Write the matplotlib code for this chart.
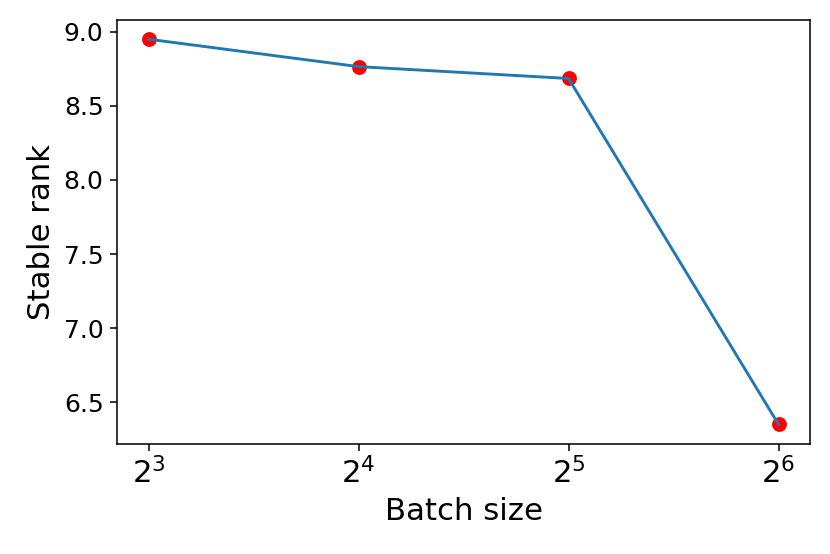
import matplotlib
matplotlib.use('Agg')
import matplotlib.pyplot as plt

batch_sizes = [8, 16, 32, 64]
stable_rank = [8.95, 8.765, 8.685, 6.35]

dpi = 138.4
fig = plt.figure(figsize=(830 / dpi, 554 / dpi), dpi=dpi)
ax = fig.add_axes([0.141, 0.199, 0.835, 0.765])

ax.scatter(batch_sizes, stable_rank, color='red', s=45)
ax.plot(batch_sizes, stable_rank)
ax.set_xscale('log', base=2)
ax.minorticks_off()

ax.set_xlabel('Batch size', fontsize=16)
ax.set_ylabel('Stable rank', fontsize=16)
ax.tick_params(axis='x', labelsize=16)
ax.tick_params(axis='y', labelsize=13)

fig.savefig('out.png', dpi=dpi)
plt.close(fig)
